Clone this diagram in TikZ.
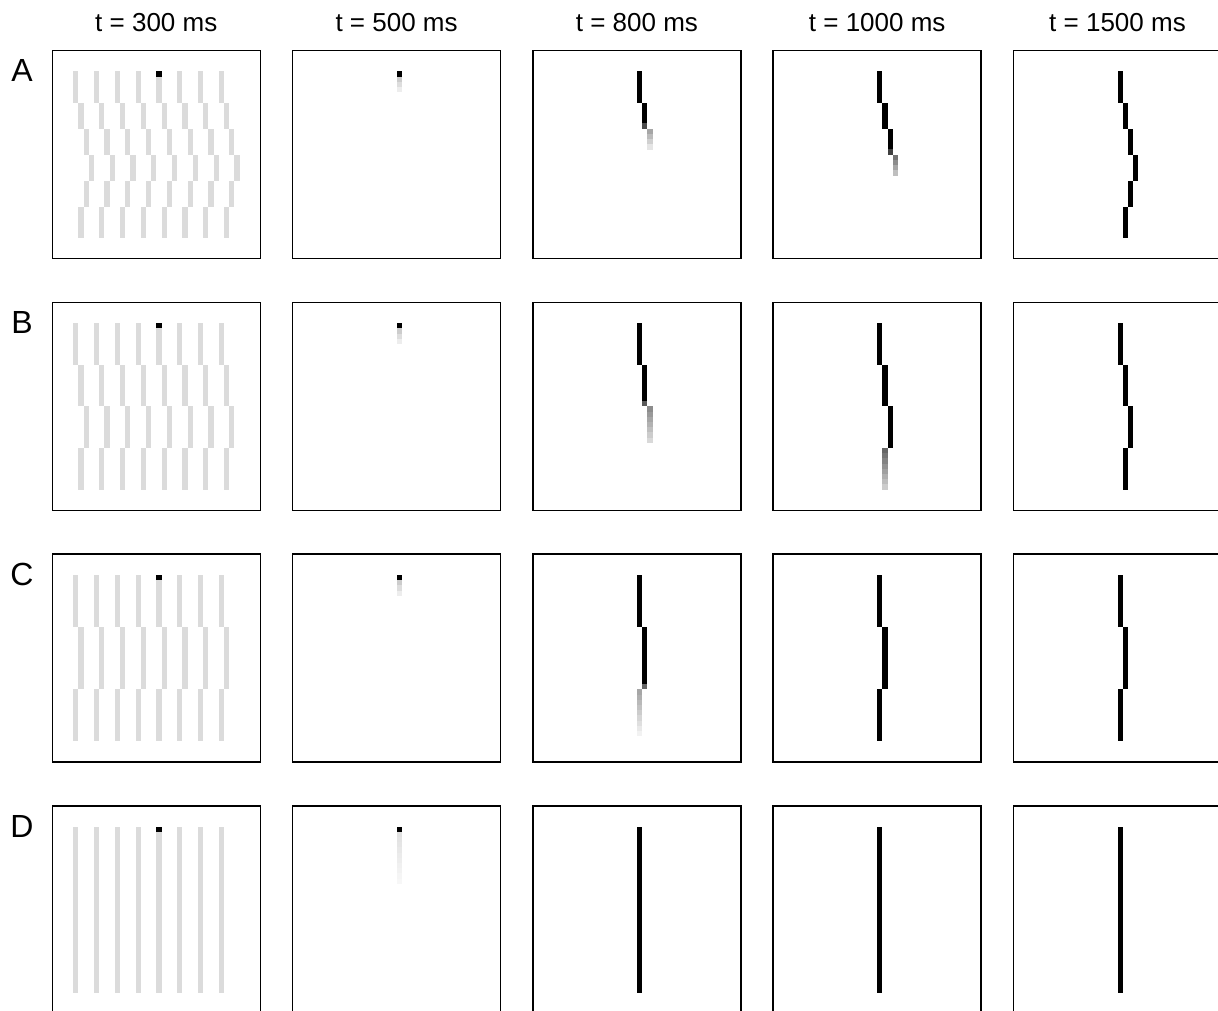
\documentclass[tikz,border=0pt]{standalone}
\usepackage{fontspec}
\setmainfont{Liberation Sans}
\colorlet{barg}{black!14}
% one bar segment: column, first row, last row, colour (cell units)
\newcommand\seg[4]{\fill[#4] (#1,#2) rectangle (#1+1,#3+1);}
% fading segment: column, first row, last row, start %black, end %black
\newcommand\fadeseg[5]{%
  \foreach \rr in {#2,...,#3}{%
    \pgfmathsetmacro\pp{#4+(#5-#4)*(\rr-#2)/max(1,#3-#2)}%
    \fill[black!\pp] (#1,\rr) rectangle (#1+1,\rr+1.02);}}
% full contour paths for the four stimuli
\newcommand\pathA[2]{\seg{#1}{4}{9}{#2}\seg{#1+1}{10}{14}{#2}\seg{#1+2}{15}{19}{#2}\seg{#1+3}{20}{24}{#2}\seg{#1+2}{25}{29}{#2}\seg{#1+1}{30}{35}{#2}}
\newcommand\pathB[2]{\seg{#1}{4}{11}{#2}\seg{#1+1}{12}{19}{#2}\seg{#1+2}{20}{27}{#2}\seg{#1+1}{28}{35}{#2}}
\newcommand\pathC[2]{\seg{#1}{4}{13}{#2}\seg{#1+1}{14}{25}{#2}\seg{#1}{26}{35}{#2}}
\newcommand\pathD[2]{\seg{#1}{4}{35}{#2}}
% panel: column index, row index, content
\newcommand\panel[3]{%
  \begin{scope}[shift={(52.3+240.3*#1,50.7+251.7*#2)}]
    \begin{scope}[x=2.6pt,y=-2.6pt]
      #3
      \draw[line width=0.8pt] (0,0) rectangle (40,40);
    \end{scope}
  \end{scope}}
\tikzset{
  coltitle/.style={anchor=base,font=\fontsize{13}{15}\selectfont,inner sep=0pt},
  rowlabel/.style={anchor=base,font=\fontsize{16}{18}\selectfont,inner sep=0pt}
}
\begin{document}
\begin{tikzpicture}[x=0.5pt,y=-0.5pt]
\useasboundingbox (0,0) rectangle (1218,1010);
\clip (0,0) rectangle (1218,1010);
\fill[white] (0,0) rectangle (1218,1010);

% column titles
\node[coltitle] (t300)  at (156.3,31.7) {t = 300 ms};
\node[coltitle] (t500)  at (396.6,31.7) {t = 500 ms};
\node[coltitle] (t800)  at (636.9,31.7) {t = 800 ms};
\node[coltitle] (t1000) at (877.2,31.7) {t = 1000 ms};
\node[coltitle] (t1500) at (1117.5,31.7) {t = 1500 ms};

% row labels
\node[rowlabel] (lA) at (22,82) {A};
\node[rowlabel] (lB) at (22,333.7) {B};
\node[rowlabel] (lC) at (22,585.4) {C};
\node[rowlabel] (lD) at (22,837.1) {D};

% ---------- row A ----------
\panel{0}{0}{\foreach \k in {0,...,7}{\pathA{4+4*\k}{barg}}\seg{20}{4}{4}{black}}
\panel{1}{0}{\seg{20}{4}{4}{black}\fadeseg{20}{5}{7}{20}{7}}
\panel{2}{0}{\seg{20}{4}{9}{black}\seg{21}{10}{13}{black}\seg{21}{14}{14}{black!70}\fadeseg{22}{15}{18}{35}{10}}
\panel{3}{0}{\seg{20}{4}{9}{black}\seg{21}{10}{14}{black}\seg{22}{15}{18}{black}\seg{22}{19}{19}{black!75}\fadeseg{23}{20}{23}{55}{25}}
\panel{4}{0}{\pathA{20}{black}}

% ---------- row B ----------
\panel{0}{1}{\foreach \k in {0,...,7}{\pathB{4+4*\k}{barg}}\seg{20}{4}{4}{black}}
\panel{1}{1}{\seg{20}{4}{4}{black}\fadeseg{20}{5}{7}{20}{7}}
\panel{2}{1}{\seg{20}{4}{11}{black}\seg{21}{12}{18}{black}\seg{21}{19}{19}{black!65}\fadeseg{22}{20}{26}{45}{15}}
\panel{3}{1}{\seg{20}{4}{11}{black}\seg{21}{12}{19}{black}\seg{22}{20}{27}{black}\fadeseg{21}{28}{35}{60}{20}}
\panel{4}{1}{\pathB{20}{black}}

% ---------- row C ----------
\panel{0}{2}{\foreach \k in {0,...,7}{\pathC{4+4*\k}{barg}}\seg{20}{4}{4}{black}}
\panel{1}{2}{\seg{20}{4}{4}{black}\fadeseg{20}{5}{7}{20}{7}}
\panel{2}{2}{\seg{20}{4}{13}{black}\seg{21}{14}{24}{black}\seg{21}{25}{25}{black!60}\fadeseg{20}{26}{34}{35}{5}}
\panel{3}{2}{\pathC{20}{black}}
\panel{4}{2}{\pathC{20}{black}}

% ---------- row D ----------
\panel{0}{3}{\foreach \k in {0,...,7}{\pathD{4+4*\k}{barg}}\seg{20}{4}{4}{black}}
\panel{1}{3}{\seg{20}{4}{4}{black}\fadeseg{20}{5}{14}{12}{3}}
\panel{2}{3}{\pathD{20}{black}}
\panel{3}{3}{\pathD{20}{black}}
\panel{4}{3}{\pathD{20}{black}}
\end{tikzpicture}
\end{document}
